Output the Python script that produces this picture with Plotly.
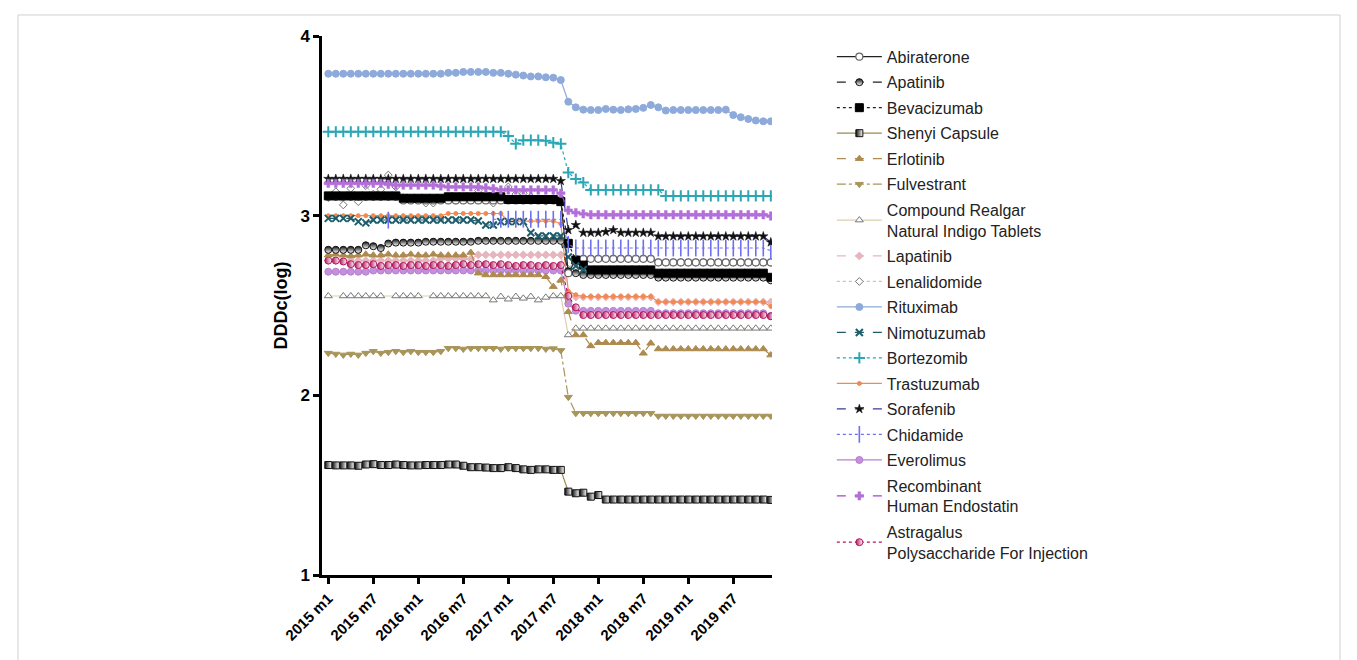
import plotly.graph_objects as go

# Monthly categories 2015 m1 .. 2019 m12
months = [f"{2015 + i // 12} m{i % 12 + 1}" for i in range(60)]
tick_labels = ["2015 m1", "2015 m7", "2016 m1", "2016 m7", "2017 m1",
               "2017 m7", "2018 m1", "2018 m7", "2019 m1", "2019 m7"]
y_ticks = [1, 2, 3, 4]

# DDDc(log) per drug, one row per year
abiraterone = [
    3.105, 3.105, 3.105, 3.105, 3.105, 3.105, 3.105, 3.105, 3.105, 3.105, 3.085, 3.085,
    3.085, 3.085, 3.085, 3.085, 3.085, 3.085, 3.085, 3.085, 3.085, 3.085, 3.085, 3.085,
    3.085, 3.085, 3.085, 3.085, 3.085, 3.085, 3.085, 3.085, 2.680, 2.755, 2.760, 2.760,
    2.760, 2.760, 2.760, 2.760, 2.760, 2.760, 2.760, 2.760, 2.740, 2.740, 2.740, 2.740,
    2.740, 2.740, 2.740, 2.740, 2.740, 2.740, 2.740, 2.740, 2.740, 2.740, 2.740, 2.740]
apatinib = [
    2.810, 2.810, 2.810, 2.810, 2.810, 2.835, 2.830, 2.820, 2.845, 2.850, 2.850, 2.850,
    2.850, 2.855, 2.855, 2.855, 2.855, 2.855, 2.855, 2.855, 2.860, 2.860, 2.860, 2.860,
    2.860, 2.860, 2.860, 2.860, 2.860, 2.860, 2.860, 2.860, 2.690, 2.680, 2.670, 2.670,
    2.670, 2.670, 2.670, 2.670, 2.670, 2.670, 2.670, 2.670, 2.655, 2.655, 2.655, 2.655,
    2.655, 2.655, 2.655, 2.655, 2.655, 2.655, 2.655, 2.655, 2.655, 2.655, 2.655, 2.640]
bevacizumab = [
    3.110, 3.110, 3.110, 3.110, 3.110, 3.110, 3.110, 3.110, 3.110, 3.110, 3.097, 3.097,
    3.097, 3.097, 3.097, 3.097, 3.105, 3.105, 3.105, 3.105, 3.105, 3.105, 3.105, 3.105,
    3.090, 3.090, 3.090, 3.090, 3.090, 3.090, 3.090, 3.078, 2.846, 2.753, 2.725, 2.698,
    2.698, 2.698, 2.698, 2.698, 2.698, 2.698, 2.698, 2.698, 2.680, 2.680, 2.680, 2.680,
    2.680, 2.680, 2.680, 2.680, 2.680, 2.680, 2.680, 2.680, 2.680, 2.680, 2.680, 2.657]
shenyi_capsule = [
    1.612, 1.610, 1.610, 1.610, 1.608, 1.615, 1.617, 1.612, 1.612, 1.615, 1.612, 1.610,
    1.610, 1.612, 1.612, 1.612, 1.615, 1.615, 1.608, 1.600, 1.600, 1.598, 1.595, 1.595,
    1.600, 1.595, 1.588, 1.585, 1.588, 1.588, 1.585, 1.585, 1.464, 1.455, 1.458, 1.436,
    1.445, 1.420, 1.420, 1.420, 1.420, 1.420, 1.420, 1.420, 1.420, 1.420, 1.420, 1.420,
    1.420, 1.420, 1.420, 1.420, 1.420, 1.420, 1.420, 1.420, 1.420, 1.420, 1.420, 1.418]
erlotinib = [
    2.780, 2.785, 2.780, 2.775, 2.780, 2.785, 2.780, 2.780, 2.785, 2.780, 2.780, 2.785,
    2.780, 2.780, 2.785, 2.780, 2.780, 2.780, 2.780, 2.795, 2.680, 2.670, 2.670, 2.670,
    2.670, 2.670, 2.670, 2.670, 2.670, 2.660, 2.605, 2.640, 2.465, 2.336, 2.336, 2.275,
    2.293, 2.293, 2.293, 2.293, 2.293, 2.293, 2.234, 2.290, 2.258, 2.258, 2.258, 2.258,
    2.258, 2.258, 2.258, 2.258, 2.258, 2.258, 2.258, 2.258, 2.258, 2.258, 2.258, 2.224]
fulvestrant = [
    2.235, 2.230, 2.225, 2.230, 2.225, 2.235, 2.245, 2.235, 2.240, 2.245, 2.240, 2.245,
    2.240, 2.240, 2.240, 2.245, 2.262, 2.262, 2.258, 2.262, 2.262, 2.262, 2.262, 2.258,
    2.262, 2.262, 2.262, 2.262, 2.262, 2.258, 2.260, 2.250, 1.990, 1.900, 1.900, 1.900,
    1.900, 1.900, 1.900, 1.900, 1.900, 1.900, 1.900, 1.900, 1.885, 1.885, 1.885, 1.885,
    1.885, 1.885, 1.885, 1.885, 1.885, 1.885, 1.885, 1.885, 1.885, 1.885, 1.885, 1.885]
compound_realgar = [
    2.553, None, 2.553, 2.553, 2.553, 2.553, 2.553, 2.553, None, 2.553, 2.553, 2.553,
    2.553, None, 2.553, 2.553, 2.553, 2.553, 2.553, 2.553, 2.553, 2.553, 2.530, 2.550,
    2.535, 2.550, 2.540, 2.550, 2.530, 2.545, 2.553, 2.553, 2.336, 2.373, 2.373, 2.373,
    2.373, 2.373, 2.373, 2.373, 2.373, 2.373, 2.373, 2.373, 2.373, 2.373, 2.373, 2.373,
    2.373, 2.373, 2.373, 2.373, 2.373, 2.373, 2.373, 2.373, 2.373, 2.373, 2.373, 2.373]
lapatinib = [
    2.750, 2.750, 2.750, 2.750, 2.750, 2.750, 2.750, 2.750, 2.750, 2.750, 2.750, 2.750,
    2.750, 2.750, 2.750, 2.760, 2.760, 2.760, 2.760, 2.760, 2.782, 2.782, 2.782, 2.782,
    2.782, 2.782, 2.782, 2.782, 2.782, 2.782, 2.782, 2.782, 2.570, 2.547, 2.547, 2.547,
    2.547, 2.547, 2.547, 2.547, 2.547, 2.547, 2.547, 2.547, 2.520, 2.520, 2.520, 2.520,
    2.520, 2.520, 2.520, 2.520, 2.520, 2.520, 2.520, 2.520, 2.520, 2.520, 2.520, 2.520]
lenalidomide = [
    3.100, 3.133, 3.060, 3.152, 3.078, 3.167, 3.120, 3.147, 3.226, 3.160, 3.100, 3.090,
    3.095, 3.070, 3.070, 3.087, 3.090, 3.085, 3.100, 3.090, 3.140, 3.095, 3.070, 3.100,
    3.160, 3.120, 3.125, 3.105, 3.090, 3.080, 3.095, 3.100, 2.700, 2.760, 2.760, 2.760,
    2.760, 2.760, 2.760, 2.760, 2.760, 2.760, 2.760, 2.760, 2.740, 2.740, 2.740, 2.740,
    2.740, 2.740, 2.740, 2.740, 2.740, 2.740, 2.740, 2.740, 2.740, 2.740, 2.740, 2.740]
rituximab = [
    3.790, 3.790, 3.790, 3.790, 3.790, 3.790, 3.790, 3.790, 3.790, 3.790, 3.790, 3.790,
    3.790, 3.790, 3.790, 3.790, 3.795, 3.795, 3.800, 3.800, 3.800, 3.800, 3.795, 3.795,
    3.790, 3.785, 3.780, 3.775, 3.775, 3.770, 3.768, 3.755, 3.634, 3.603, 3.590, 3.588,
    3.588, 3.594, 3.590, 3.588, 3.592, 3.594, 3.600, 3.616, 3.603, 3.585, 3.588, 3.588,
    3.588, 3.588, 3.588, 3.588, 3.588, 3.590, 3.560, 3.548, 3.538, 3.530, 3.525, 3.525]
nimotuzumab = [
    2.985, 2.985, 2.985, 2.985, 2.967, 2.960, 2.976, 2.976, 2.976, 2.976, 2.976, 2.976,
    2.976, 2.976, 2.976, 2.976, 2.976, 2.976, 2.976, 2.976, 2.970, 2.948, 2.948, 2.967,
    2.967, 2.967, 2.967, 2.905, 2.887, 2.887, 2.887, 2.887, 2.770, 2.720, 2.700, None,
    None, None, None, None, None, None, None, None, None, None, None, None,
    None, None, None, None, None, None, None, None, None, None, None, None]
bortezomib = [
    3.467, 3.467, 3.467, 3.467, 3.467, 3.467, 3.467, 3.467, 3.467, 3.467, 3.467, 3.467,
    3.467, 3.467, 3.467, 3.467, 3.467, 3.467, 3.467, 3.467, 3.467, 3.467, 3.467, 3.467,
    3.443, 3.400, 3.420, 3.420, 3.420, 3.417, 3.406, 3.400, 3.240, 3.204, 3.184, 3.143,
    3.143, 3.143, 3.143, 3.143, 3.143, 3.143, 3.143, 3.143, 3.143, 3.110, 3.110, 3.110,
    3.110, 3.110, 3.110, 3.110, 3.110, 3.110, 3.110, 3.110, 3.110, 3.110, 3.110, 3.110]
trastuzumab = [
    3.000, 3.000, 3.000, 3.000, 3.000, 3.000, 3.000, 3.000, 3.000, 3.000, 3.000, 3.000,
    3.000, 3.000, 3.000, 3.000, 3.012, 3.012, 3.012, 3.012, 3.012, 3.012, 3.012, 3.012,
    2.970, 2.970, 2.970, 2.970, 2.970, 2.970, 2.970, 2.955, 2.580, 2.560, 2.550, 2.550,
    2.550, 2.550, 2.550, 2.550, 2.550, 2.550, 2.550, 2.550, 2.520, 2.520, 2.520, 2.520,
    2.520, 2.520, 2.520, 2.520, 2.520, 2.520, 2.520, 2.520, 2.520, 2.520, 2.520, 2.495]
sorafenib = [
    3.205, 3.205, 3.205, 3.205, 3.205, 3.205, 3.205, 3.205, 3.205, 3.205, 3.205, 3.205,
    3.205, 3.205, 3.205, 3.205, 3.205, 3.205, 3.205, 3.205, 3.205, 3.205, 3.205, 3.205,
    3.205, 3.205, 3.205, 3.205, 3.205, 3.205, 3.205, 3.193, 2.920, 2.948, 2.905, 2.905,
    2.905, 2.910, 2.920, 2.905, 2.905, 2.905, 2.905, 2.905, 2.885, 2.885, 2.885, 2.885,
    2.885, 2.885, 2.885, 2.885, 2.885, 2.885, 2.885, 2.885, 2.885, 2.885, 2.885, 2.852]
chidamide = [
    None, None, None, None, None, None, None, None, 2.975, None, None, None,
    None, None, None, None, None, None, None, None, None, None, 2.980, 2.980,
    2.980, 2.980, 2.980, 2.980, 2.980, 2.980, 2.980, 2.980, 2.840, 2.820, 2.820, 2.820,
    2.820, 2.820, 2.820, 2.820, 2.820, 2.820, 2.820, 2.820, 2.820, 2.820, 2.820, 2.820,
    2.820, 2.820, 2.820, 2.820, 2.820, 2.820, 2.820, 2.820, 2.820, 2.820, 2.820, 2.805]
everolimus = [
    2.688, 2.688, 2.688, 2.688, 2.688, 2.688, 2.695, 2.695, 2.695, 2.695, 2.695, 2.695,
    2.695, 2.695, 2.695, 2.695, 2.695, 2.695, 2.695, 2.695, 2.695, 2.695, 2.695, 2.695,
    2.695, 2.695, 2.695, 2.695, 2.695, 2.695, 2.695, 2.695, 2.510, 2.471, 2.470, 2.470,
    2.470, 2.470, 2.470, 2.470, 2.470, 2.470, 2.470, 2.470, 2.457, 2.457, 2.457, 2.457,
    2.457, 2.457, 2.457, 2.457, 2.457, 2.457, 2.457, 2.457, 2.457, 2.457, 2.457, 2.442]
endostatin = [
    3.180, 3.180, 3.180, 3.180, 3.180, 3.180, 3.180, 3.180, 3.175, 3.170, 3.170, 3.170,
    3.170, 3.170, 3.170, 3.165, 3.160, 3.160, 3.160, 3.160, 3.160, 3.155, 3.150, 3.143,
    3.143, 3.143, 3.143, 3.143, 3.143, 3.143, 3.143, 3.125, 3.030, 3.017, 3.010, 3.005,
    3.005, 3.005, 3.005, 3.005, 3.005, 3.005, 3.005, 3.005, 3.005, 3.005, 3.005, 3.005,
    3.005, 3.005, 3.005, 3.005, 3.005, 3.005, 3.005, 3.005, 3.005, 3.005, 3.005, 2.998]
astragalus = [
    2.750, 2.750, 2.745, 2.730, 2.725, 2.725, 2.730, 2.720, 2.725, 2.725, 2.720, 2.725,
    2.725, 2.720, 2.725, 2.725, 2.720, 2.725, 2.730, 2.725, 2.730, 2.730, 2.725, 2.730,
    2.725, 2.720, 2.725, 2.725, 2.720, 2.725, 2.720, 2.725, 2.553, 2.490, 2.447, 2.447,
    2.447, 2.447, 2.447, 2.447, 2.447, 2.447, 2.447, 2.447, 2.447, 2.447, 2.447, 2.447,
    2.447, 2.447, 2.447, 2.447, 2.447, 2.447, 2.447, 2.447, 2.447, 2.447, 2.447, 2.440]

# name, values, line colour, dash, marker symbol, marker fill, marker edge, size, edge width,
# optional two-tone fill (gradient type, second colour) for the half-filled markers
series = [
    ("Abiraterone", abiraterone, "#222222", "solid", "circle", "white", "#666666", 7, 1.2, None),
    ("Apatinib", apatinib, "#222222", "dash", "circle", "#111111", "#111111", 7, 1, ("vertical", "white")),
    ("Bevacizumab", bevacizumab, "#222222", "dot", "square", "#000000", "#000000", 8, 1, None),
    ("Shenyi Capsule", shenyi_capsule, "#9a8a50", "solid", "square", "#111111", "#111111", 7, 1, ("horizontal", "white")),
    ("Erlotinib", erlotinib, "#ad8a4e", "dash", "triangle-up", "#ad8a4e", "#ad8a4e", 7, 1, None),
    ("Fulvestrant", fulvestrant, "#a8955a", "dashdot", "triangle-down", "#a8955a", "#a8955a", 7, 1, None),
    ("Compound Realgar<br>Natural Indigo Tablets", compound_realgar, "#dccfae", "solid",
     "triangle-up", "white", "#777777", 7, 1, None),
    ("Lapatinib", lapatinib, "#e6b5bd", "dash", "diamond", "#e6b5bd", "#e6b5bd", 6, 1, None),
    ("Lenalidomide", lenalidomide, "#c4c4c4", "dot", "diamond", "white", "#777777", 6, 1, None),
    ("Rituximab", rituximab, "#8eaadb", "solid", "circle", "#8eaadb", "#8eaadb", 7, 1, None),
    ("Nimotuzumab", nimotuzumab, "#1d5d6b", "dash", "x-thin", "#1d5d6b", "#1d5d6b", 7, 2, None),
    ("Bortezomib", bortezomib, "#2aa6b4", "dot", "cross-thin", "#2aa6b4", "#2aa6b4", 8, 2, None),
    ("Trastuzumab", trastuzumab, "#f3894d", "solid", "circle", "#f3894d", "#f3894d", 4, 1, None),
    ("Sorafenib", sorafenib, "#3b3b95", "dash", "star", "#111111", "#111111", 7, 0.5, None),
    ("Chidamide", chidamide, "#6f6ff0", "dot", "line-ns", "#6f6ff0", "#6f6ff0", 12, 1.6, None),
    ("Everolimus", everolimus, "#b77fd0", "solid", "circle", "#c48fdb", "#b77fd0", 7, 1, None),
    ("Recombinant<br>Human Endostatin", endostatin, "#a443d2", "dash", "cross", "#b36fd9", "#b36fd9", 7, 0.5, None),
    ("Astragalus<br>Polysaccharide For Injection", astragalus, "#b3155c", "dot", "circle", "#b3155c", "#b3155c",
     7, 1, ("horizontal", "white")),
]

# drawing order (bottom to top); the legend keeps the list order through legendrank
draw_order = [8, 6, 7, 12, 15, 17, 4, 5, 3, 1, 0, 2, 10, 14, 11, 13, 16, 9]

fig = go.Figure()
for k in draw_order:
    name, vals, lcol, dash, sym, fill, edge, size, ew, twotone = series[k]
    marker = dict(symbol=sym, size=size, color=fill, line=dict(color=edge, width=ew))
    if twotone:
        marker["gradient"] = dict(type=twotone[0], color=twotone[1])
    fig.add_trace(go.Scatter(
        x=months, y=vals, name=name, legendgroup=f"g{k}", legendrank=k + 1, mode="lines+markers",
        connectgaps=(name.startswith("Compound")),
        line=dict(color=lcol, width=1.2, dash=dash), marker=marker,
    ))

axis_common = dict(
    showline=True, linecolor="black", linewidth=2.5, ticks="outside", ticklen=6,
    tickwidth=2.5, tickcolor="black", showgrid=False, zeroline=False,
)
bold_font = dict(family="Liberation Sans, Arial, sans-serif", color="black", weight="bold")

fig.update_layout(
    width=1357, height=660,
    margin=dict(l=322, r=585, t=36, b=85),
    paper_bgcolor="white", plot_bgcolor="white",
    font=dict(family="Liberation Sans, Arial, sans-serif", color="#222222"),
    xaxis=dict(type="category", categoryarray=months, range=[-0.84, 59.16],
               tickvals=tick_labels, ticktext=tick_labels, tickangle=-45,
               tickfont=dict(size=15, **bold_font), **axis_common),
    yaxis=dict(range=[1, 4], tickvals=y_ticks, tickfont=dict(size=17, **bold_font), **axis_common,
               title=dict(text="DDDc(log)", standoff=9, font=dict(size=18, **bold_font))),
    legend=dict(x=1.133, y=0.993, xanchor="left", yanchor="top", font=dict(size=16, color="#222222"),
                itemwidth=45, tracegroupgap=1.7, traceorder="grouped", bgcolor="rgba(0,0,0,0)"),
    showlegend=True,
    shapes=[dict(type="rect", xref="paper", yref="paper", x0=-0.6756, x1=2.2622, y0=-0.1614, y1=1.039,
                 line=dict(color="#d0d0d0", width=1), fillcolor="rgba(0,0,0,0)", layer="below")],
)

fig.write_html("out.html")
